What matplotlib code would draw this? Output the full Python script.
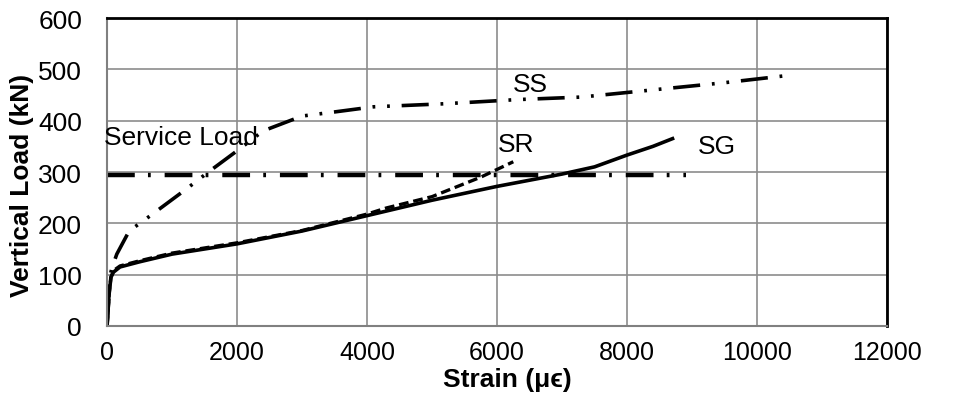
import matplotlib
matplotlib.use("Agg")
import matplotlib.pyplot as plt

plt.rcParams["font.family"] = ["Liberation Sans", "DejaVu Sans"]
plt.rcParams["lines.scale_dashes"] = False

# SG: solid line
sg_strain = [0, 30, 60, 100, 200, 500, 1000, 2000, 3000, 4000, 5000, 6000, 7000, 7500, 8000, 8400, 8700]
sg_load = [0, 60, 95, 105, 115, 125, 140, 160, 185, 215, 245, 272, 296, 310, 333, 350, 365]

# SR: dashed line
sr_strain = [0, 30, 60, 100, 200, 500, 1000, 2000, 3000, 4000, 4300, 5000, 5750, 6250]
sr_load = [0, 60, 95, 108, 117, 127, 142, 162, 186, 218, 230, 252, 290, 320]

# SS: dash-dot-dot line
ss_strain = [0, 50, 75, 150, 340, 700, 1200, 1560, 2040, 2400, 3000, 3500, 4100,
             5200, 6300, 7300, 8400, 9500, 10400]
ss_load = [0, 100, 113, 140, 185, 218, 265, 300, 345, 380, 409, 417, 427,
           433, 441, 446, 460, 474, 487]

# service load level
service_strain = [0, 8900]
service_load = [295, 295]

fig = plt.figure(figsize=(9.67, 4.02), dpi=100)
ax = fig.add_axes([0.1107, 0.1866, 0.8066, 0.7661])

ax.plot(service_strain, service_load, color="black", lw=3.2,
        dashes=(20, 9.5, 2, 10), dash_capstyle="butt")
ax.plot(ss_strain, ss_load, color="black", lw=2.6,
        dashes=(19.5, 8.5, 2, 8.5, 2, 8.5))
ax.plot(sr_strain, sr_load, color="black", lw=2.4, dashes=(7, 3.5))
ax.plot(sg_strain, sg_load, color="black", lw=2.6)

fs = 19
ax.text(6520, 471, "SS", fontsize=fs, ha="center", va="center")
ax.text(6300, 355, "SR", fontsize=fs, ha="center", va="center")
ax.text(9380, 351, "SG", fontsize=fs, ha="center", va="center")
ax.text(-50, 368, "Service Load", fontsize=fs, ha="left", va="center")

ax.set_xlim(0, 12000)
ax.set_ylim(0, 600)
ax.set_xticks(range(0, 12001, 2000))
ax.set_yticks(range(0, 601, 100))
ax.tick_params(length=0, labelsize=fs)
ax.tick_params(axis="x", pad=10, labelsize=18)
ax.tick_params(axis="y", pad=18)
ax.grid(True, color="#8c8c8c", lw=1.2)
ax.set_axisbelow(True)

for side in ["top", "right"]:
    ax.spines[side].set_color("black")
    ax.spines[side].set_linewidth(2)
for side in ["left", "bottom"]:
    ax.spines[side].set_color("#808080")
    ax.spines[side].set_linewidth(1.5)

ax.set_xlabel("Strain (μϵ)", fontsize=fs, fontweight="bold")
ax.set_ylabel("Vertical Load (kN)", fontsize=fs, fontweight="bold")
ax.xaxis.set_label_coords(0.513, -0.133)
ax.yaxis.set_label_coords(-0.094, 0.458)

fig.savefig("out.png", dpi=100)
